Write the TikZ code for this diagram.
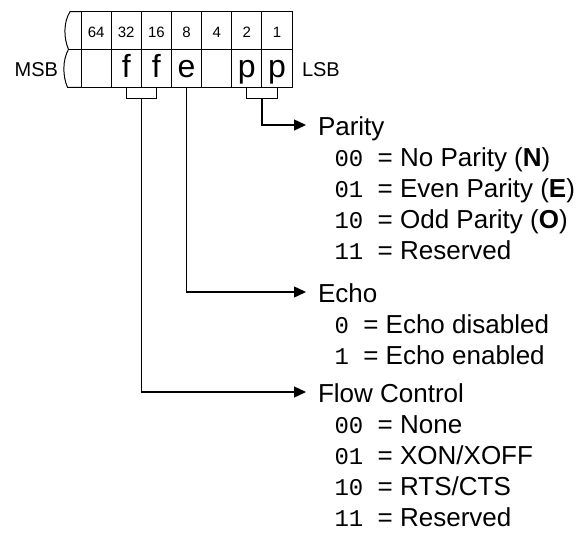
\documentclass[tikz,border=0pt]{standalone}
\usepackage{fontspec}
\setmainfont{Liberation Sans}
\setmonofont{Liberation Mono}
\usetikzlibrary{positioning, arrows.meta, calc}

\newcommand{\codefont}{\fontsize{24}{24}\selectfont\ttfamily}

\begin{document}
\begin{tikzpicture}[x=1pt, y=-1pt, every node/.style={inner sep=0pt, outer sep=0pt},
  reg/.style={line width=1pt},
  numcell/.style={draw, line width=1pt, minimum width=30.15pt, minimum height=37.6pt,
    font=\fontsize{15}{15}\selectfont, text height=14.4pt, text depth=0pt},
  bitcell/.style={draw, line width=1pt, minimum width=30.15pt, minimum height=38pt,
    font=\fontsize{32}{32}\selectfont, text height=22.5pt, text depth=4.5pt},
  side/.style={font=\fontsize{20}{20}\selectfont},
  head/.style={anchor=base west, font=\fontsize{26}{26}\selectfont},
  choice/.style={anchor=base west, font=\fontsize{26}{26}\selectfont},
  brace/.style={line width=1pt},
  conn/.style={line width=1.4pt, -{Triangle[length=12pt, width=11pt]}, shorten >=12pt}
]
  \useasboundingbox (0,0) rectangle (584,536);

  % Register: bit weights on top, flags below
  \foreach \w/\l [count=\k from 0] in {64/{},32/f,16/f,8/e,4/{},2/p,1/p} {
    \node[numcell] (t\w) at (96.1+30.15*\k, 30.5) {\w};
    \node[bitcell] (b\w) at (96.1+30.15*\k, 68.3) {\l};
  }
  % Broken left end
  \draw[reg] (t64.north west) -- (70,11.7) .. controls (63.5,22) and (63.5,38) .. (68.5,49.3)
    .. controls (62.5,60) and (62.5,76) .. (67.5,87.3) -- (b64.south west);
  \draw[reg] (68.5,49.3) -- (b64.north west);

  \node[side, anchor=base east] (msb) at (58,76) {MSB};
  \node[side, anchor=base west] (lsb) at (302,76) {LSB};

  % Parity
  \node[head] (parity) at (318,135) {Parity};
  \foreach \cd/\tx [count=\i] in {00/{No Parity (\textbf{N})}, 01/{Even Parity (\textbf{E})},
      10/{Odd Parity (\textbf{O})}, 11/Reserved}
    \node[choice] (par\i) at (334.5,135+31*\i) {{\codefont\cd\ }= \tx};

  % Echo
  \node[head] (echo) at (318,302) {Echo};
  \foreach \cd/\tx [count=\i] in {0/{Echo disabled}, 1/{Echo enabled}}
    \node[choice] (ech\i) at (334.5,302+31*\i) {{\codefont\cd\ }= \tx};

  % Flow control
  \node[head] (flow) at (318,402) {Flow Control};
  \foreach \cd/\tx [count=\i] in {00/None, 01/{XON/XOFF}, 10/{RTS/CTS}, 11/Reserved}
    \node[choice] (flo\i) at (334.5,402+31*\i) {{\codefont\cd\ }= \tx};

  % Brackets and arrows
  \draw[brace] (b2.south) -- ++(0,11) -| (b1.south);
  \draw[conn] ($(b2.south)!0.5!(b1.south)$) ++(0,11) |- ([yshift=10pt]parity.base west);
  \draw[conn] (b8.south) |- ([yshift=10pt]echo.base west);
  \draw[brace] (b32.south) -- ++(0,11) -| (b16.south);
  \draw[conn] ($(b32.south)!0.5!(b16.south)$) ++(0,11) |- ([yshift=10pt]flow.base west);
\end{tikzpicture}
\end{document}
